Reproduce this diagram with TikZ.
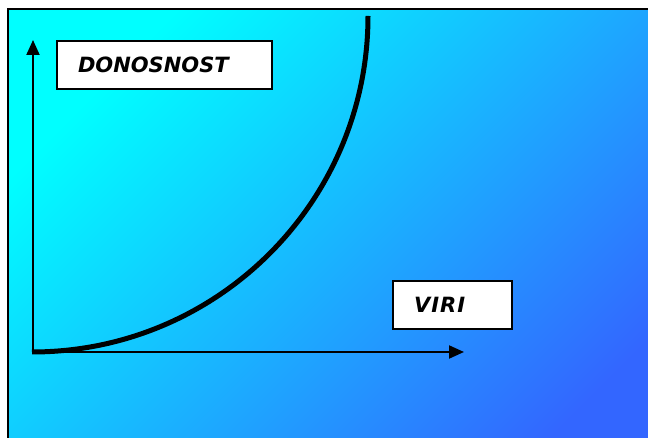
\documentclass[tikz,border=0pt]{standalone}
\usepackage{fontspec}
\setmainfont{DejaVu Sans}
\usetikzlibrary{arrows.meta}
\definecolor{bgA}{HTML}{00FFFF}
\definecolor{bgB}{HTML}{3366FF}
\tikzset{
  labelbox/.style={draw=black, line width=2pt, fill=white, anchor=north west,
    inner xsep=21pt, minimum height=48pt, align=left,
    font=\fontsize{21}{24}\selectfont\bfseries\itshape},
  axis/.style={line width=2pt, -{Triangle[length=15pt,width=13pt]}},
  curve/.style={line width=5pt}
}
\begin{document}
\begin{tikzpicture}[x=1pt,y=1pt]
\useasboundingbox (0,0) rectangle (648,438);
\begin{scope}
\clip (0,0) rectangle (648,438);
\fill[white] (0,0) rectangle (648,438);
\shade[top color=bgA, bottom color=bgB, shading angle=45] (8,-20) rectangle (700,429);
\draw[line width=2pt] (8,-20) -- (8,429) -- (700,429);
\end{scope}
\node[labelbox, text width=173pt] (don) at (56,398) {DONOSNOST};
\node[labelbox, text width=77pt] (viri) at (392,158) {\addfontfeature{LetterSpace=5}VIRI};
\coordinate (o) at (33,86);
\coordinate (ytip) at (33,398);
\coordinate (xtip) at (464,86);
\draw[axis] (o) -- (ytip);
\draw[axis] (o) -- (xtip);
\coordinate (cstart) at (32,86);
\draw[curve] (cstart) arc[start angle=270, end angle=360, radius=336];
\end{tikzpicture}
\end{document}
